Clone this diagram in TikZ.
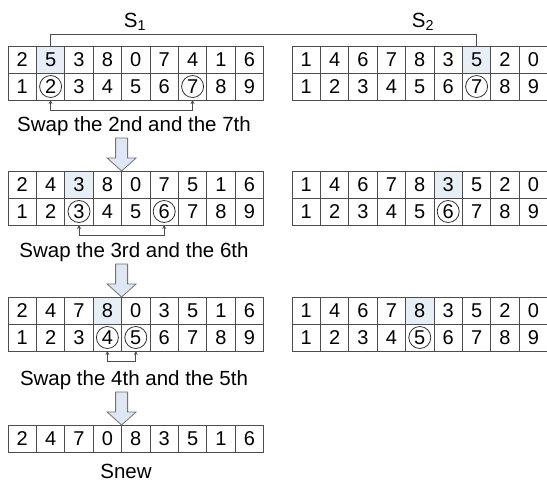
\documentclass[tikz,border=0pt]{standalone}
\usepackage{fontspec}
\setmainfont{Liberation Sans}
\usetikzlibrary{arrows.meta}
\definecolor{shade}{HTML}{E8EEF6}
\definecolor{arrfill}{HTML}{DEE7F3}
\definecolor{gridc}{HTML}{4D4D4D}
\newcommand{\numrow}[5]{%
	\foreach \v [count=\i] in {#4} {%
		\ifnum\i=#5\relax\def\cfill{shade}\else\def\cfill{white}\fi
		\node[cell,fill=\cfill] (#1-\i) at ({#2+(\i-0.5)*28.4},{#3+13.5}) {\v};}}
\newcommand{\swapdown}[1]{\draw[blockarr] (#1) -- ++(-14.5,-13) -- ++(8.5,0) -- ++(0,-20)
	-- ++(12,0) -- ++(0,20) -- ++(8.5,0) -- cycle;}

\begin{document}
\begin{tikzpicture}[x=1pt,y=-1pt,
	cell/.style={draw=gridc,line width=0.9pt,minimum width=28.4pt,minimum height=27pt,
		inner sep=0pt,outer sep=0pt,font=\fontsize{20}{23}\selectfont},
	lbl/.style={inner sep=0pt,font=\fontsize{20.5}{23}\selectfont},
	ring/.style={draw=black!80,line width=0.8pt},
	swaplink/.style={draw=gridc,line width=0.8pt,{Stealth[length=4pt,width=4pt]}-{Stealth[length=4pt,width=4pt]}},
	brace/.style={draw=gridc,line width=0.8pt},
	blockarr/.style={draw=black!55,fill=arrfill,line width=0.8pt,line join=miter}]
\useasboundingbox (0,0) rectangle (547,481);

%% "L" = left strings (S1), "R" = right strings (S2), "t"/"b" = top/bottom row

\numrow{L1t}{8}{46}{2,5,3,8,0,7,4,1,6}{2}
\numrow{L1b}{8}{73}{1,2,3,4,5,6,7,8,9}{0}
\numrow{R1t}{292}{46}{1,4,6,7,8,3,5,2,0}{7}
\numrow{R1b}{292}{73}{1,2,3,4,5,6,7,8,9}{0}

\numrow{L2t}{8}{171}{2,4,3,8,0,7,5,1,6}{3}
\numrow{L2b}{8}{198}{1,2,3,4,5,6,7,8,9}{0}
\numrow{R2t}{292}{171}{1,4,6,7,8,3,5,2,0}{6}
\numrow{R2b}{292}{198}{1,2,3,4,5,6,7,8,9}{0}

\numrow{L3t}{8}{297}{2,4,7,8,0,3,5,1,6}{4}
\numrow{L3b}{8}{324}{1,2,3,4,5,6,7,8,9}{0}
\numrow{R3t}{292}{297}{1,4,6,7,8,3,5,2,0}{5}
\numrow{R3b}{292}{324}{1,2,3,4,5,6,7,8,9}{0}

\numrow{L4t}{8}{425}{2,4,7,0,8,3,5,1,6}{0}

\node[lbl] (S1) at (135,22) {S\textsubscript{1}};
\node[lbl] (S2) at (423,22) {S\textsubscript{2}};
\draw[brace] (L1t-2.north) -- ++(0,-12) -| (R1t-7.north);

\foreach \k in {2,7} \draw[ring] (L1b-\k) circle (11pt);
\draw[ring] (R1b-7) circle (11pt);
\foreach \k in {3,6} \draw[ring] (L2b-\k) circle (11pt);
\draw[ring] (R2b-6) circle (11pt);
\foreach \k in {4,5} \draw[ring] (L3b-\k) circle (11pt);
\draw[ring] (R3b-5) circle (11pt);

\draw[swaplink] (L1b-2.south) -- ++(0,10) -| (L1b-7.south);
\draw[swaplink] (L2b-3.south) -- ++(0,10) -| (L2b-6.south);
\draw[swaplink] (L3b-4.south) -- ++(0,10) -| (L3b-5.south);

\node[lbl] (sw1) at (134,126) {Swap the 2nd and the 7th};
\node[lbl] (sw2) at (134,252) {Swap the 3rd and the 6th};
\node[lbl] (sw3) at (134,380) {Swap the 4th and the 5th};
\node[lbl] (snew) at (126,471) {Snew};

\swapdown{L2t-4.north east}
\swapdown{L3t-4.north east}
\swapdown{L4t-4.north east}
\end{tikzpicture}
\end{document}
